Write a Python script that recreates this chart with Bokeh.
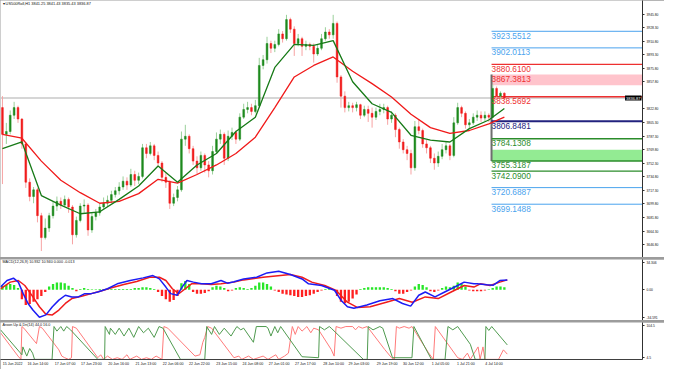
from bokeh.plotting import figure
from bokeh.layouts import column
from bokeh.models import (ColumnDataSource, FixedTicker, PrintfTickFormatter,
                          CustomJSTickFormatter, Range1d, Span, Label)
from bokeh.core.properties import value
from bokeh.embed import file_html
from bokeh.resources import INLINE

# ------------------------------------------------------------------ data
header_text = "\u25be US500Roll,H1  3841.25 3841.43 3835.43 3836.87"
macd_text = "MACD(12,26,9) 10.932 10.940 0.000 -0.013"
aroon_text = "Aroon Up & Dn(14) 44.0 16.0"

first_open = 3824.5
closes = [
    3789.8, 3793.5, 3814.6, 3824.5, 3809.7, 3777.4, 3727.7, 3709.1, 3717.8, 3684.3,
    3655.8, 3668.2, 3684.3, 3696.7, 3702.9, 3698.0, 3705.4, 3695.5, 3659.5, 3678.1,
    3696.7, 3698.0, 3665.7, 3683.1, 3688.0, 3695.5, 3700.4, 3704.2, 3711.6, 3716.6,
    3721.5, 3729.0, 3724.0, 3737.7, 3730.2, 3735.2, 3772.4, 3765.0, 3774.9, 3762.5,
    3752.6, 3734.0, 3727.7, 3700.4, 3707.9, 3717.8, 3783.6, 3787.3, 3771.2, 3755.1,
    3746.4, 3762.5, 3750.1, 3742.6, 3767.5, 3783.6, 3789.8, 3758.8, 3787.3, 3792.3,
    3783.6, 3812.1, 3822.1, 3824.5, 3819.6, 3827.0, 3879.2, 3886.6, 3907.7, 3901.5,
    3906.5, 3920.1, 3913.9, 3938.7, 3926.3, 3907.7, 3913.9, 3904.0, 3906.5, 3904.0,
    3894.1, 3901.5, 3913.9, 3922.6, 3918.9, 3933.8, 3864.3, 3839.4, 3824.5, 3827.0,
    3824.5, 3828.3, 3814.6, 3822.1, 3817.1, 3812.1, 3819.6, 3822.1, 3824.5, 3809.7,
    3814.6, 3796.0, 3779.9, 3769.9, 3765.0, 3746.4, 3799.7, 3794.8, 3777.4, 3772.4,
    3758.8, 3752.6, 3761.3, 3769.9, 3774.9, 3762.5, 3804.7, 3824.5, 3817.1, 3802.2,
    3804.7, 3812.1, 3814.6, 3810.9, 3814.6, 3812.1, 3849.4, 3839.4, 3843.2, 3836.87]
highs = [
    3839.4, 3804.7, 3820.8, 3832.0, 3827.0, 3810.9, 3779.9, 3732.7, 3721.5, 3720.3,
    3688.0, 3680.6, 3688.0, 3702.9, 3709.1, 3707.9, 3710.4, 3707.9, 3698.0, 3683.1,
    3700.4, 3705.4, 3700.4, 3688.0, 3693.0, 3700.4, 3707.9, 3710.4, 3716.6, 3721.5,
    3727.7, 3735.2, 3734.0, 3745.1, 3742.6, 3740.2, 3777.4, 3777.4, 3779.9, 3777.4,
    3767.5, 3755.1, 3740.2, 3730.2, 3712.9, 3722.8, 3793.5, 3802.2, 3789.8, 3774.9,
    3761.3, 3767.5, 3765.0, 3755.1, 3774.9, 3792.3, 3796.0, 3792.3, 3794.8, 3798.5,
    3794.8, 3817.1, 3829.5, 3832.0, 3829.5, 3834.5, 3889.1, 3892.8, 3916.4, 3911.4,
    3911.4, 3926.3, 3923.8, 3944.9, 3941.2, 3930.0, 3920.1, 3916.4, 3911.4, 3908.9,
    3907.7, 3906.5, 3920.1, 3928.8, 3926.3, 3944.9, 3936.2, 3866.7, 3845.6, 3832.0,
    3830.8, 3832.0, 3829.5, 3827.0, 3827.0, 3824.5, 3824.5, 3829.5, 3829.5, 3827.0,
    3819.6, 3817.1, 3798.5, 3783.6, 3774.9, 3769.9, 3807.2, 3809.7, 3797.2, 3782.4,
    3774.9, 3765.0, 3767.5, 3777.4, 3779.9, 3777.4, 3812.1, 3830.8, 3827.0, 3819.6,
    3809.7, 3817.1, 3820.8, 3819.6, 3819.6, 3817.1, 3854.3, 3851.9, 3845.6, 3844.4]
lows = [
    3725.3, 3777.4, 3789.8, 3809.7, 3804.7, 3771.2, 3720.3, 3702.9, 3700.4, 3675.6,
    3638.4, 3653.3, 3663.2, 3680.6, 3690.5, 3693.0, 3695.5, 3688.0, 3647.1, 3655.8,
    3675.6, 3688.0, 3658.2, 3662.0, 3678.1, 3684.3, 3693.0, 3695.5, 3700.4, 3707.9,
    3711.6, 3717.8, 3717.8, 3721.5, 3722.8, 3725.3, 3732.7, 3758.8, 3762.5, 3756.3,
    3747.6, 3727.7, 3720.3, 3693.0, 3696.7, 3702.9, 3715.3, 3774.9, 3765.0, 3750.1,
    3737.7, 3742.6, 3740.2, 3734.0, 3737.7, 3765.0, 3777.4, 3750.1, 3755.1, 3782.4,
    3777.4, 3781.1, 3809.7, 3817.1, 3814.6, 3817.1, 3824.5, 3874.2, 3881.6, 3895.3,
    3896.5, 3904.0, 3908.9, 3911.4, 3921.4, 3891.6, 3904.0, 3891.6, 3899.0, 3899.0,
    3882.9, 3891.6, 3899.0, 3911.4, 3913.9, 3913.9, 3856.8, 3824.5, 3818.3, 3819.6,
    3818.3, 3819.6, 3809.7, 3812.1, 3805.9, 3798.5, 3808.4, 3814.6, 3817.1, 3802.2,
    3804.7, 3786.1, 3771.2, 3765.0, 3756.3, 3737.7, 3742.6, 3789.8, 3772.4, 3765.0,
    3752.6, 3743.9, 3747.6, 3757.5, 3765.0, 3756.3, 3760.0, 3802.2, 3812.1, 3797.2,
    3797.2, 3802.2, 3807.2, 3805.9, 3807.2, 3805.9, 3810.9, 3834.5, 3835.7, 3834.5]

ma_bars = [0, 5, 10, 15, 20, 25, 30, 35, 40, 45, 50, 55, 60, 65, 70, 75, 80, 85,
           90, 95, 100, 105, 110, 115, 120, 125, 129]
fast_ma = [3771.2, 3779.9, 3710.4, 3698.0, 3686.8, 3689.3, 3705.4, 3722.8, 3748.8,
           3727.7, 3750.1, 3765.0, 3793.5, 3812.1, 3876.7, 3906.5, 3905.2, 3911.4,
           3858.1, 3829.5, 3818.3, 3788.6, 3782.4, 3779.9, 3797.2, 3808.4, 3823.3]
slow_ma = [3789.8, 3784.8, 3755.1, 3730.2, 3714.1, 3700.4, 3702.9, 3712.9, 3731.5,
           3726.5, 3737.7, 3750.1, 3765.0, 3786.1, 3824.5, 3864.3, 3879.2, 3890.3,
           3871.7, 3855.6, 3838.2, 3815.9, 3798.5, 3791.0, 3794.8, 3803.4, 3812.1]

price_ticks = [3945.80, 3928.30, 3910.80, 3893.30, 3875.80, 3857.80, 3822.80,
               3805.30, 3787.30, 3769.80, 3752.30, 3734.80, 3717.30, 3699.80,
               3681.80, 3664.30, 3646.80, 3629.30]

level_bar = 125.7
level_values = [3923.5512, 3902.0113, 3880.6100, 3867.3813, 3838.5692, 3806.8481,
                3784.1308, 3755.3187, 3742.0900, 3720.6887, 3699.1488]
level_kinds = ["outer", "outer", "res", "res", "res", "pivot",
               "sup", "sup", "sup", "outer", "outer"]
level_has_line = [True, True, True, False, True, True, True, True, True, True, True]
pink_zone = (3853.5, 3867.3813)
green_zone = (3755.3187, 3769.9)

macd_hist = [
    5, 6, 7, 6, 2, -12, -19, -18, -15, -12,
    -8, -3, 4, 7, 9, 9, 8, 5, 2, -2,
    1, 2, 1, 0.5, 0.5, 1, 1, 1, 1, 1,
    1, 1, 1, 1, 2, 2, 3, 3, 2, 1,
    -3, -8, -12, -15, -13, -8, 8, 11, 7, -3,
    -5, -5, -4, -2, 3, 5, 4, 2, -2, -1,
    2, 3, 2, 1, 2, 5, 9, 9, 7, 4,
    -1, -3, -5, -6, -7, -8, -9, -9, -8, -7,
    -5, -3, -1, 1, 2, 1, -8, -15, -17, -15,
    -11, -6, 1, 2, 3, 3, 3, 3, 3, 2,
    1, -2, -5, -5, -3, -1, 4, 7, 6, 3,
    -2, -3, -1, 2, 4, 3, 5, 9, 7, 4,
    -1, -2, -2, -2, -1, 0.5, 2, 4, 4, 3]
macd_x = [-0.5, 1.17, 2.83, 4.08, 5.33, 6.58, 7.83, 9.5, 11.17, 12.83, 14.5, 16.17,
          17.83, 19.5, 21.17, 22.83, 24.5, 27, 29.5, 32.83, 36.17, 38.67, 40.33, 42,
          43.25, 44.92, 46.17, 47.42, 49.08, 51.17, 53.67, 56.17, 57.83, 59.5, 62,
          65.33, 68, 71, 74, 77, 78.67, 82, 85.33, 87, 88.67, 90.33, 93.67, 97,
          100.33, 102.83, 104.92, 107, 108.67, 111.17, 113.67, 117, 118.67, 121.17,
          122, 124.5, 126.17, 127.83, 129.75]
macd_v = [3.3, 11.5, 14.4, 9.5, -4.9, -17.2, -25.4, -34.4, -31.5, -21.3, -13.0, -6.9,
          -9.0, -9.0, -4.9, -4.9, -2.8, 1.2, 7.4, 11.5, 14.8, 17.7, 13.6, 3.3, -4.9,
          -6.9, 3.3, 11.5, 9.5, 7.6, 7.4, 11.5, 8.2, 10.0, 13.5, 15.6, 21.0, 23.0,
          19.0, 13.5, 7.4, 5.3, -0.7, -13.1, -21.3, -23.3, -19.1, -13.9, -11.1,
          -17.2, -20.5, -6.9, -2.8, -9.0, -2.8, 5.3, 9.5, 7.4, 7.4, 6.2, 5.7, 11.5,
          12.3]
signal_x = [-0.5, 2, 4.08, 5.75, 7.83, 9.5, 11.17, 12.83, 14.5, 16.17, 17.83, 20.33,
            22.83, 25.33, 27.83, 31.17, 34.5, 37.83, 40.33, 42, 43.67, 45.33, 47,
            48.67, 51.17, 53.67, 56.17, 59.5, 62, 67, 74, 77, 79.5, 82.83, 85.75,
            88.67, 91.17, 94.5, 98.67, 102, 105.33, 108.67, 112, 115.33, 118.67,
            121.17, 122.83, 125.33, 127.83, 129.75]
signal_v = [1.2, 9.5, 11.5, 5.3, -9.0, -21.3, -30.7, -31.5, -25.4, -17.2, -11.1, -8.2,
            -4.9, -1.6, 2.1, 6.6, 10.3, 15.6, 15.6, 11.5, 1.2, -4.9, 1.2, 7.6, 7.6,
            6.6, 7.6, 9.5, 12.3, 15.6, 19.0, 15.6, 9.5, 5.3, -1.0, -15.6, -22.1,
            -21.3, -15.6, -11.1, -15.6, -9.0, -11.1, -2.8, 5.3, 3.3, 7.4, 5.3, 9.5,
            12.3]
macd_ticks = [34.306, 0.0, -34.591]
macd_tick_labels = ["34.306", "0.00", "-34.591"]

aroon_up_x = [-0.5, 4.5, 5, 5.25, 6.25, 7, 7.75, 8.25, 12.75, 13.25,
              14, 15, 15.75, 16.5, 17.5, 24.5, 26.25, 26.4, 27.5, 27.75,
              29, 30, 31.25, 32.5, 33.75, 35, 36.25, 37.5, 39, 40.25,
              41.25, 45.75, 52, 52.5, 53.75, 54.5, 55.75, 57, 58.75, 59.5,
              60.25, 61.25, 62, 64.5, 65.25, 67.75, 68.25, 69, 70, 70.75,
              71.5, 77, 81.25, 81.5, 82.75, 84, 84.5, 92.75, 93.75, 94,
              95.25, 97, 97.75, 100.25, 105.25, 105.75, 110.25, 113.75, 114.5, 115.75,
              117, 120.25, 121.5, 124, 124.25, 125, 125.75, 129.75]
aroon_up_v = [90, 21, 14, 38, 10, 33, 19, 0, 0, 100,
              86, 100, 86, 100, 90, 0, 0, 100, 76, 95,
              76, 95, 71, 95, 67, 100, 81, 95, 67, 100,
              95, 0, 0, 100, 76, 100, 76, 95, 71, 86,
              100, 90, 95, 52, 100, 100, 95, 71, 100, 81,
              100, 8, 5, 100, 90, 100, 95, 0, 0, 100,
              90, 100, 95, 5, 5, 100, 0, 0, 100, 90,
              100, 46, 0, 0, 100, 88, 100, 44]
aroon_dn_x = [-0.5, 4, 4.75, 5, 5.5, 8.75, 9.5, 10.25, 14.5, 15.25,
              16, 17, 17.75, 18, 19, 24.5, 25.25, 26, 27, 28.25,
              29.5, 30.75, 32, 32.75, 34.5, 35.75, 37, 38.25, 39.5, 41,
              41.5, 42.5, 49.5, 50.75, 51.5, 52, 52.75, 53.75, 59.5, 60.75,
              61.5, 63.25, 64.5, 67, 68.25, 70.25, 71, 72.5, 73.5, 74.5,
              75.25, 76, 77, 78.25, 79.25, 80, 81.25, 84.5, 85.25, 85.75,
              87, 88.25, 90, 90.75, 91.5, 92.5, 93.75, 98.25, 100, 100.75,
              101.25, 102, 103.25, 104.5, 105.25, 109.5, 110.75, 111.25, 117, 118.25,
              119.5, 120.25, 122.25, 122.75, 123.5, 124, 127.5, 128.75, 129.75]
aroon_dn_v = [81, 10, 0, 100, 95, 48, 100, 95, 29, 10,
              5, 0, 5, 100, 95, 5, 14, 0, 10, 0,
              5, 0, 14, 0, 10, 0, 5, 0, 10, 0,
              100, 95, 10, 14, 52, 67, 100, 95, 5, 10,
              0, 10, 0, 10, 0, 14, 0, 10, 19, 100,
              76, 100, 86, 100, 81, 95, 90, 30, 10, 100,
              95, 100, 100, 90, 100, 95, 100, 30, 5, 0,
              100, 95, 100, 95, 100, 20, 0, 100, 5, 0,
              19, 0, 38, 0, 38, 0, 0, 29, 16]
aroon_ticks = [104.5, 4.5]
aroon_tick_labels = ["104.5", "4.5"]

time_tick_bars = [0, 6.5, 13.5, 20.25, 27.25, 34.25, 41.25, 48, 55, 61.75, 68.5,
                  75.25, 82.5, 89, 96.25, 103, 110, 116.5, 123.75]
time_tick_labels = ["15 Jun 2022", "16 Jun 14:00", "17 Jun 07:00", "17 Jun 23:00",
                    "20 Jun 16:00", "21 Jun 13:00", "22 Jun 06:00", "22 Jun 22:00",
                    "23 Jun 15:00", "24 Jun 08:00", "27 Jun 01:00", "27 Jun 17:00",
                    "28 Jun 10:00", "29 Jun 03:00", "29 Jun 19:00", "30 Jun 12:00",
                    "1 Jul 05:00", "1 Jul 21:00", "4 Jul 14:00"]

# ------------------------------------------------------------------ style / layout
FONT = "Liberation Sans"
W, AXW = 664, 22
H_MAIN, H_MACD, H_AROON = 257, 61, 47
AROON_AXIS_H = 10
X_START, X_END = -0.5, 164.5
LABEL_SHIFT = 2.6          # axis labels are centred; shift so they start at the tick time
UP_BODY, UP_WICK = "#1e8a1e", "#9ad09a"
DN_BODY, DN_WICK = "#f01c1c", "#f7a3a3"
LEVEL_COLORS = {"outer": "#4aa3ee", "res": "#ee3030", "pivot": "#22227e", "sup": "#2b8c2b"}
LEVEL_WIDTHS = {"outer": 1, "res": 1.4, "pivot": 2, "sup": 1.4}

x_range = Range1d(X_START, X_END)


def style_yaxis(p, size="3.3px"):
    ax = p.yaxis[0]
    ax.major_label_text_font = FONT
    ax.major_label_text_font_size = size
    ax.major_label_text_color = "#111111"
    ax.major_tick_out = 2
    ax.major_tick_in = 0
    ax.minor_tick_out = 0
    ax.minor_tick_in = 0
    ax.major_label_standoff = 2
    ax.axis_line_color = "#303030"
    ax.major_tick_line_color = "#303030"


def make_fig(height, y_range, x_axis=False, bottom=0):
    p = figure(width=W, height=height, x_range=x_range, y_range=y_range,
               output_backend="svg", toolbar_location=None,
               x_axis_location="below" if x_axis else None,
               y_axis_location="right",
               min_border_left=0, min_border_right=AXW,
               min_border_top=0, min_border_bottom=bottom)
    p.xgrid.visible = False
    p.ygrid.visible = False
    p.outline_line_color = None
    p.background_fill_color = "white"
    p.border_fill_color = "white"
    style_yaxis(p)
    return p


def label_formatter(vals, names):
    return CustomJSTickFormatter(args=dict(tick_vals=vals, tick_names=names), code="""
        for (let i = 0; i < tick_vals.length; i++) {
            if (Math.abs(tick_vals[i] - tick) < 1e-6) { return tick_names[i]; }
        }
        return "";
    """)


# ------------------------------------------------------------------ main price panel
p1 = make_fig(H_MAIN, Range1d(3630.0, 3963.5))
p1.yaxis.ticker = FixedTicker(ticks=price_ticks)
p1.yaxis.formatter = PrintfTickFormatter(format="%.2f")

last_close = closes[-1]
p1.add_layout(Span(location=last_close, dimension="width", line_color="#c9c9c9",
                   line_width=1.5, level="underlay"))

# zones and pivot marker
p1.quad(left=[level_bar, level_bar], right=[X_END, X_END],
        bottom=[pink_zone[0], green_zone[0]], top=[pink_zone[1], green_zone[1]],
        fill_color=["#ffc4cc", "#93eb93"], line_color=None)
p1.segment(x0=[level_bar], y0=[green_zone[0]], x1=[level_bar], y1=[pink_zone[1]],
           line_color="#6e6e6e", line_width=2)

lines_src = ColumnDataSource(dict(
    x=[level_bar for v, f in zip(level_values, level_has_line) if f],
    y=[v for v, f in zip(level_values, level_has_line) if f],
    color=[LEVEL_COLORS[k] for k, f in zip(level_kinds, level_has_line) if f],
    w=[LEVEL_WIDTHS[k] for k, f in zip(level_kinds, level_has_line) if f],
))
p1.ray(x="x", y="y", length=0, angle=0, line_color="color", line_width="w",
       source=lines_src)

# candles
opens = [first_open] + closes[:-1]
bars = list(range(len(closes)))


def candle_src(is_up):
    sel = [i for i in bars if (closes[i] >= opens[i]) == is_up]
    return ColumnDataSource(dict(
        x=sel,
        h=[highs[i] for i in sel], l=[lows[i] for i in sel],
        top=[max(opens[i], closes[i]) for i in sel],
        bot=[min(opens[i], closes[i]) for i in sel],
    ))


for is_up, body, wick in ((True, UP_BODY, UP_WICK), (False, DN_BODY, DN_WICK)):
    src = candle_src(is_up)
    p1.segment(x0="x", y0="l", x1="x", y1="h", line_color=wick, line_width=1, source=src)
    p1.vbar(x="x", width=0.45, top="top", bottom="bot", fill_color=body,
            line_color=body, line_width=0.5, source=src)

p1.line(ma_bars, slow_ma, line_color="#f01a1a", line_width=1.3)
p1.line(ma_bars, fast_ma, line_color="#177a17", line_width=1.3)

# level labels
text_src = ColumnDataSource(dict(
    x=[level_bar] * len(level_values), y=level_values,
    text=["%.4f" % v for v in level_values],
    color=[LEVEL_COLORS[k] for k in level_kinds],
))
p1.text(x="x", y="y", text="text", text_color="color", source=text_src,
        text_font=value(FONT), text_font_size="8.3px", text_baseline="top",
        text_align="left", x_offset=0, y_offset=1.5)

p1.add_layout(Label(x=X_START, y=3963.5, x_offset=2, text=header_text,
                    text_font=FONT, text_font_size="3.9px", text_color="#111111",
                    text_baseline="top", text_align="left"))

# bid price box at the right edge of the price panel
p1.add_layout(Label(x=X_END, y=last_close, x_offset=-1, text="%.2f" % last_close,
                    text_font=FONT, text_font_size="4px", text_color="white",
                    text_baseline="middle", text_align="right",
                    background_fill_color="black", background_fill_alpha=1.0,
                    padding=1))

# ------------------------------------------------------------------ MACD panel
p2 = make_fig(H_MACD, Range1d(-38.5, 37.8))
p2.yaxis.ticker = FixedTicker(ticks=macd_ticks)
p2.yaxis.formatter = label_formatter(macd_ticks, macd_tick_labels)
p2.vbar(x=bars, top=macd_hist, bottom=0, width=0.6,
        fill_color=["#27e627" if v >= 0 else "#ff2020" for v in macd_hist],
        line_color=None)
p2.line(signal_x, signal_v, line_color="#f01c1c", line_width=1.5)
p2.line(macd_x, macd_v, line_color="#1c1cf5", line_width=1.5)
p2.add_layout(Label(x=X_START, y=37.8, x_offset=2, text=macd_text,
                    text_font=FONT, text_font_size="3.7px", text_color="#111111",
                    text_baseline="top", text_align="left"))

# ------------------------------------------------------------------ Aroon panel + time axis
p3 = make_fig(H_AROON, Range1d(-0.4, 112.3), x_axis=True, bottom=AROON_AXIS_H)
p3.yaxis.ticker = FixedTicker(ticks=aroon_ticks)
p3.yaxis.formatter = label_formatter(aroon_ticks, aroon_tick_labels)
label_pos = [t + LABEL_SHIFT for t in time_tick_bars]
xa = p3.xaxis[0]
xa.ticker = FixedTicker(ticks=label_pos)
xa.formatter = label_formatter(label_pos, time_tick_labels)
xa.major_tick_out = 0
xa.major_tick_in = 0
xa.minor_tick_out = 0
xa.major_label_standoff = 2
xa.major_label_text_font = FONT
xa.major_label_text_font_size = "3.6px"
xa.major_label_text_color = "#111111"
xa.axis_line_color = "#404040"
p3.line(aroon_dn_x, aroon_dn_v, line_color="#ff7a7a", line_width=1)
p3.line(aroon_up_x, aroon_up_v, line_color="#4f9a4f", line_width=1)
p3.add_layout(Label(x=X_START, y=112.3, x_offset=2, text=aroon_text,
                    text_font=FONT, text_font_size="3.7px", text_color="#111111",
                    text_baseline="top", text_align="left"))

layout = column(p1, p2, p3, spacing=2, styles={"background-color": "#9c9c9c"})

open("out.html", "w").write(file_html(layout, INLINE))
